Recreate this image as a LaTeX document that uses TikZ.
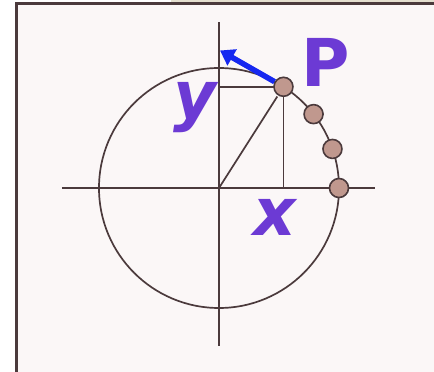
\documentclass[tikz,border=0pt]{standalone}
\usepackage{fontspec}
\setmainfont{DejaVu Sans}
\usetikzlibrary{arrows.meta}

\definecolor{framebrown}{RGB}{75,58,60}
\definecolor{paperpink}{RGB}{251,247,247}
\definecolor{tabbeige}{RGB}{228,223,207}
\definecolor{lblpurple}{RGB}{108,58,212}
\definecolor{vblue}{RGB}{22,40,240}
\definecolor{dotrose}{RGB}{192,152,142}

\tikzset{
  axisline/.style={framebrown, line width=1.7pt},
  rotdot/.style={circle, draw=framebrown, fill=dotrose, line width=1.6pt,
    minimum size=19pt, inner sep=0pt},
  biglbl/.style={lblpurple, inner sep=0pt, anchor=base,
    font=\fontsize{66}{66}\selectfont\bfseries}
}

\begin{document}
\begin{tikzpicture}[x=1pt, y=1pt]

  \useasboundingbox (-219,-184) rectangle (215,188);
  \clip (-219,-184) rectangle (215,188);

  % page, tab and frame
  \fill[white] (-219,-184) rectangle (215,188);
  \fill[tabbeige] (-48,180) rectangle (215,188);
  \draw[framebrown, line width=2.5pt, fill=paperpink]
    (-202.5,-200) rectangle (230,184.3);

  % axes and circle
  \coordinate (O) at (0,0);
  \draw[axisline] (-157,0) -- (156,0);
  \draw[axisline] (0,165.5) -- (0,-157.5);
  \draw[axisline] (O) circle (120);

  % points on the circle
  \node[rotdot] (d0) at (0:120) {};
  \node[rotdot] (d1) at (19:120) {};
  \node[rotdot] (d2) at (38:120) {};
  \coordinate (pc) at (57.5:120);

  % projections of P and the radius
  \draw[axisline] (O |- pc) -- (pc);
  \draw[axisline] (pc) -- (pc |- O);
  \draw[axisline, shorten >=11.5pt] (O) -- (pc);
  \node[rotdot] (pp) at (pc) {};

  % velocity arrow
  \coordinate (vtip) at (1,137.5);
  \draw[vblue, line width=5.5pt, -{Triangle[length=14pt, width=18pt]}]
    (pp) -- (vtip);

  % labels
  \node[biglbl] (lp) at (107,101) {P};
  \node[biglbl, font=\fontsize{66}{66}\selectfont\bfseries\itshape] (ly) at (-24,69) {y};
  \node[biglbl, font=\fontsize{66}{66}\selectfont\bfseries\itshape] (lx) at (56,-47) {x};

\end{tikzpicture}
\end{document}
